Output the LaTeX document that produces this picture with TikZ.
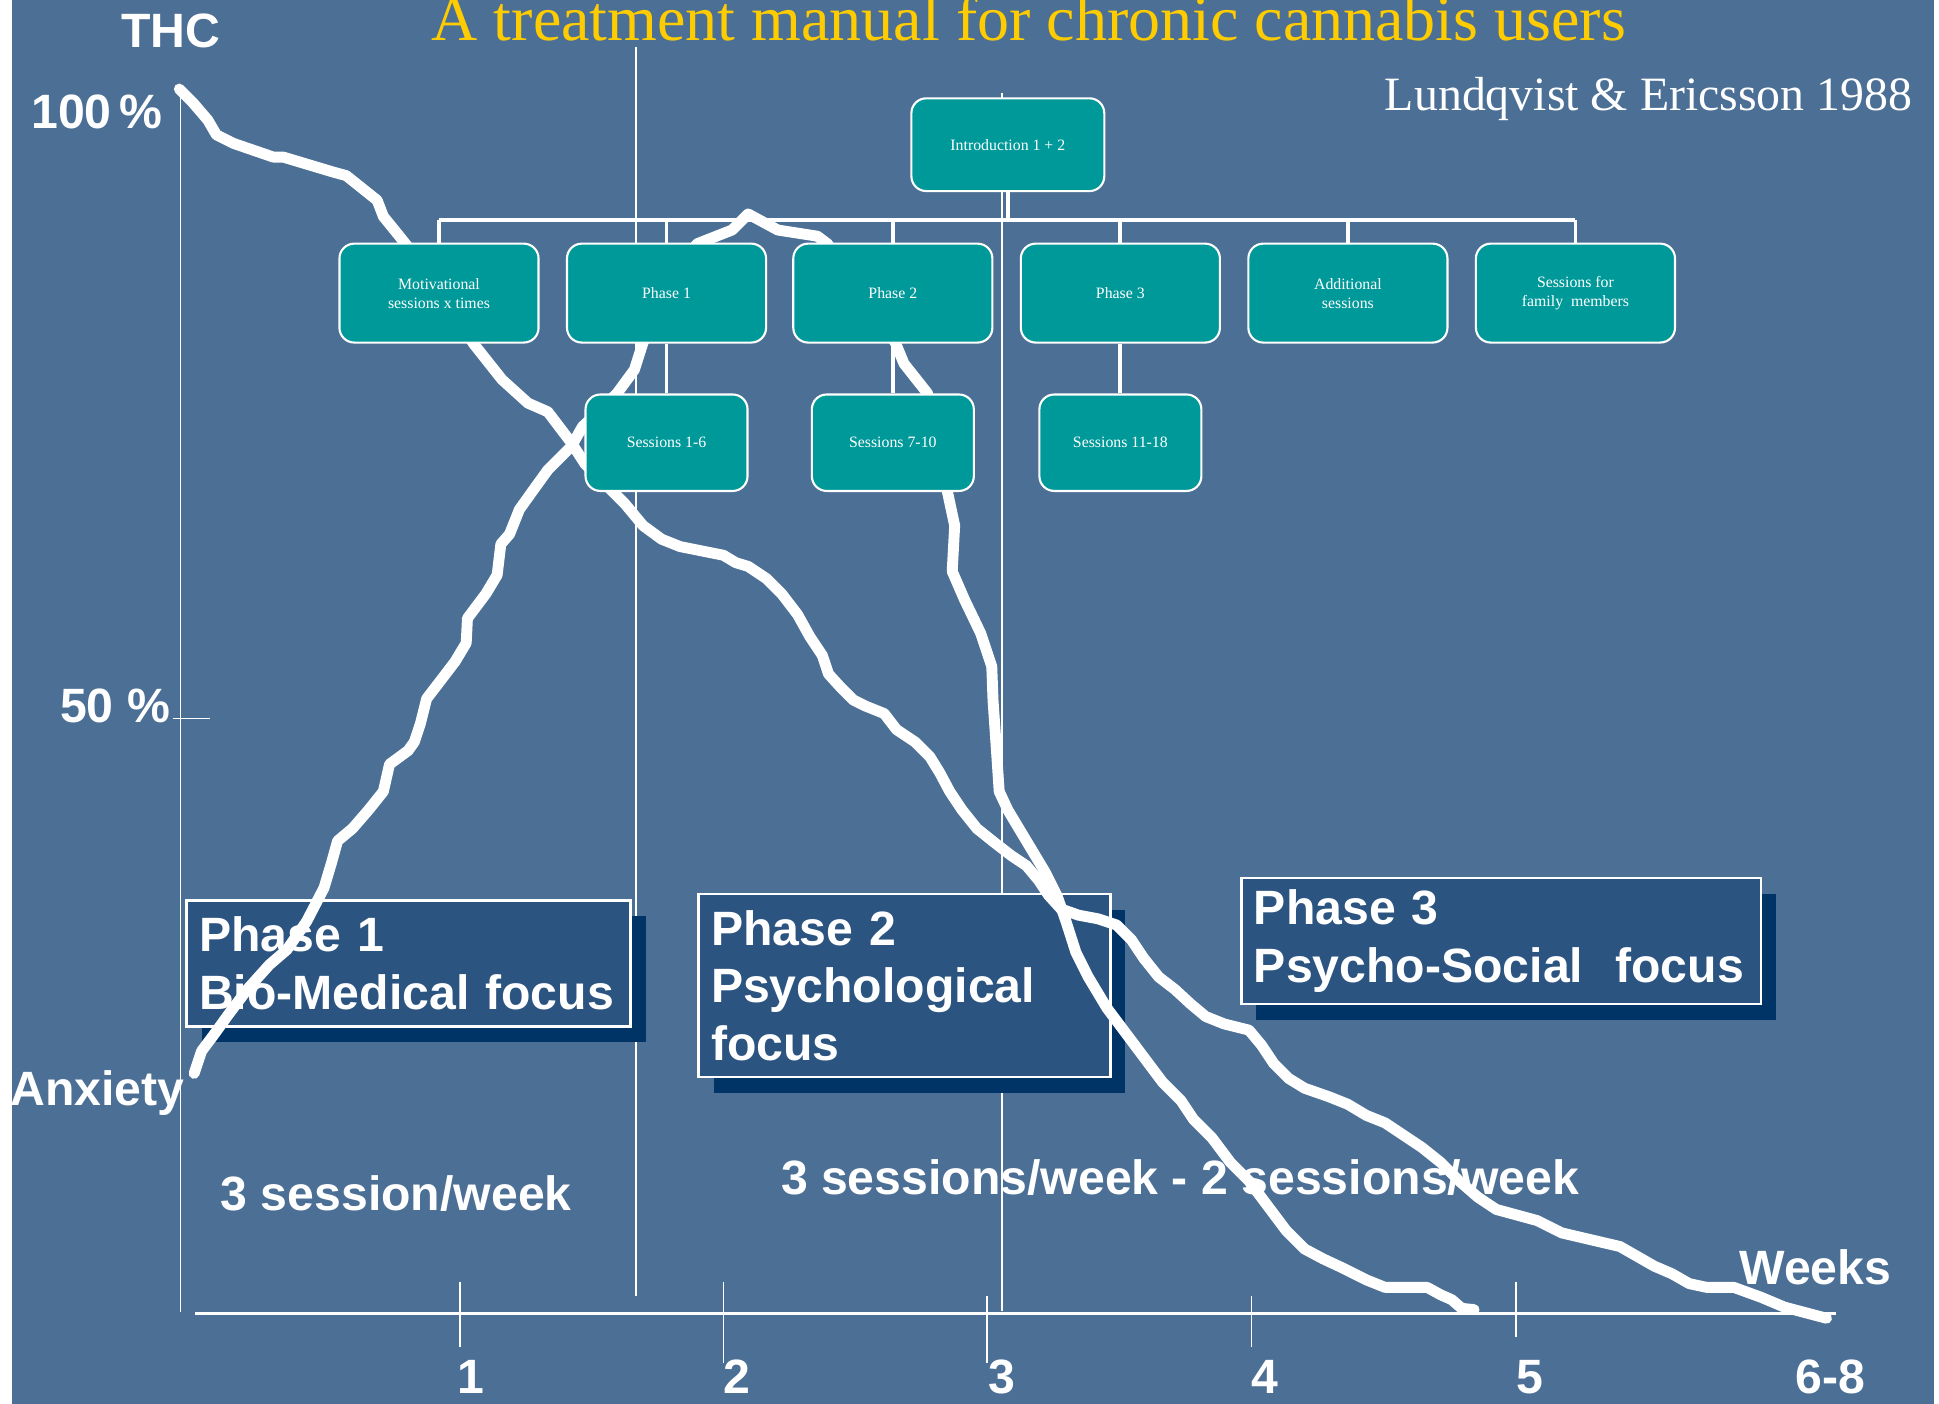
\documentclass[tikz,border=0pt]{standalone}
\usepackage{fontspec}
\setmainfont{Liberation Serif}
\setsansfont{Liberation Sans}
\usetikzlibrary{shadows}

\definecolor{slatebg}{RGB}{76,111,150}
\definecolor{orgteal}{RGB}{0,153,153}
\definecolor{phasefill}{RGB}{44,84,128}
\definecolor{phaseshade}{RGB}{0,51,102}
\definecolor{titlegold}{RGB}{255,204,0}
\newcommand\pu{0.012366cm}

\tikzset{
    orgbox/.style = {draw=white, line width=0.6pt, fill=orgteal, rounded corners=12*\pu,
        text=white, align=center, font=\fontsize{4.5}{5.4}\selectfont},
    orgline/.style = {white, line width=1.1pt},
    phasebox/.style = {draw=white, line width=0.7pt, fill=phasefill, anchor=north west,
        inner xsep=10*\pu, align=left, text=white,
        font=\sffamily\bfseries\fontsize{13.7}{16.4}\selectfont,
        drop shadow={shadow xshift=12*\pu, shadow yshift=-13*\pu, fill=phaseshade, opacity=1}},
    biglabel/.style = {text=white, inner sep=0pt, font=\sffamily\bfseries\fontsize{13.7}{16.4}\selectfont},
    curve/.style = {white, line width=3.1pt, line join=round, line cap=round},
    thin/.style = {white, line width=0.5pt}
}

\begin{document}
\begin{tikzpicture}[x=0.012366cm, y=-0.012366cm]
    \useasboundingbox (0,0) rectangle (1568,1135);
    \fill[slatebg] (10,0) rectangle (1564,1135);

    % axes and week guides
    \draw[thin] (146,75) -- (146,1061);
    \draw[thin] (140,581) -- (170,581);
    \draw[white, line width=1pt] (158,1062) -- (1485,1062);
    \draw[thin] (372,1037) -- (372,1089);
    \draw[thin] (585,1037) -- (585,1102);
    \draw[thin] (798,1048) -- (798,1102);
    \draw[thin] (1012,1048) -- (1012,1089);
    \draw[thin] (1226,1037) -- (1226,1081);
    \draw[thin] (514,38) -- (514,1048);
    \draw[thin] (810,75) -- (810,1060);

    \node[font=\fontsize{18.2}{20}\selectfont, text=titlegold, anchor=base, inner sep=0pt] (title) at (832,33)
        {A treatment manual for chronic cannabis users};
    \node[font=\fontsize{13.6}{16}\selectfont, text=white, anchor=base east, inner sep=0pt] (ref) at (1547,89)
        {Lundqvist \& Ericsson 1988};

    \node[biglabel, anchor=base] (thc) at (138,38) {THC};
    \node[biglabel, anchor=base east] (full) at (132,104) {100\,\%};
    \node[biglabel, anchor=base east] (half) at (138,584) {50 \%};
    \node[biglabel, anchor=base west] (anx) at (8,894) {Anxiety};
    \node[biglabel, anchor=base] (weeks) at (1468,1039) {Weeks};
    \node[biglabel, anchor=base] (w1) at (381,1127) {1};
    \node[biglabel, anchor=base] (w2) at (596,1127) {2};
    \node[biglabel, anchor=base] (w3) at (810,1127) {3};
    \node[biglabel, anchor=base] (w4) at (1023,1127) {4};
    \node[biglabel, anchor=base] (w5) at (1237,1127) {5};
    \node[biglabel, anchor=base] (w68) at (1480,1127) {6-8};

    % phase boxes
    \node[phasebox, minimum width=359*\pu, minimum height=102*\pu, text width=339*\pu] (ph1) at (150,727)
        {Phase 1\\Bio-Medical focus};
    \node[phasebox, minimum width=333*\pu, minimum height=148*\pu, text width=313*\pu] (ph2) at (564,722)
        {Phase 2\\Psychological\\focus};
    \node[phasebox, minimum width=420*\pu, minimum height=102*\pu, text width=400*\pu] (ph3) at (1003,709)
        {Phase 3\\Psycho-Social\ \ focus};

    \node[biglabel, anchor=base west] (rate1) at (178,979) {3 session/week};
    \node[biglabel, anchor=base west] (rate2) at (631,966) {3 sessions/week - 2 sessions/week};

    % THC curve
    \draw[curve] (145,72) -- (156,83) -- (168,97) -- (175,109) -- (189,116) -- (221,127) -- (229,127)
        -- (269,139) -- (280,142) -- (305,162) -- (310,175) -- (323,191) -- (350,225) -- (383,278)
        -- (406,307) -- (427,326) -- (443,333) -- (462,358) -- (473,375) -- (490,392) -- (505,407)
        -- (520,425) -- (535,436) -- (550,442) -- (570,446) -- (585,449) -- (595,455) -- (605,458)
        -- (620,468) -- (632,480) -- (645,497) -- (655,515) -- (665,530) -- (670,545) -- (680,556)
        -- (690,566) -- (700,571) -- (715,577) -- (725,590) -- (740,600) -- (752,612) -- (760,625)
        -- (768,640) -- (778,655) -- (790,670) -- (805,682) -- (818,692) -- (830,700) -- (840,712)
        -- (848,724) -- (858,735) -- (872,740) -- (888,743) -- (903,748) -- (915,760) -- (925,775)
        -- (937,790) -- (950,800) -- (963,812) -- (975,822) -- (990,828) -- (1010,833) -- (1020,845)
        -- (1030,860) -- (1042,872) -- (1055,880) -- (1075,887) -- (1090,893) -- (1105,902) -- (1120,908)
        -- (1135,918) -- (1150,928) -- (1165,940) -- (1180,955) -- (1195,968) -- (1210,978) -- (1243,987)
        -- (1263,997) -- (1310,1008) -- (1338,1024) -- (1352,1030) -- (1366,1038) -- (1380,1041)
        -- (1402,1041) -- (1424,1049) -- (1443,1057) -- (1477,1066);

    % anxiety curve
    \draw[curve] (157,868) -- (163,850) -- (172,838) -- (185,820) -- (200,800) -- (218,780) -- (232,768)
        -- (248,745) -- (262,718) -- (268,698) -- (273,680) -- (285,670) -- (298,655) -- (310,640)
        -- (315,618) -- (330,607) -- (335,600) -- (340,585) -- (345,565) -- (355,552) -- (368,535)
        -- (377,520) -- (378,500) -- (393,480) -- (402,465) -- (405,440) -- (412,432) -- (420,412)
        -- (430,398) -- (443,380) -- (462,361) -- (471,345) -- (485,332) -- (499,318) -- (513,299)
        -- (520,277) -- (540,240) -- (548,215) -- (564,197) -- (592,186) -- (605,173) -- (629,186)
        -- (661,191) -- (669,197) -- (700,240) -- (724,277) -- (731,294) -- (750,318) -- (760,360)
        -- (766,397) -- (772,425) -- (770,462) -- (780,485) -- (793,512) -- (802,539) -- (803,566)
        -- (806,610) -- (808,640) -- (815,655) -- (830,680) -- (845,705) -- (855,725) -- (862,745)
        -- (870,770) -- (880,790) -- (895,815) -- (910,835) -- (925,855) -- (940,875) -- (955,890)
        -- (965,905) -- (980,920) -- (995,940) -- (1010,955) -- (1025,975) -- (1040,995) -- (1055,1010)
        -- (1070,1018) -- (1085,1025) -- (1105,1035) -- (1120,1041) -- (1132,1041) -- (1154,1041)
        -- (1165,1047) -- (1174,1051) -- (1182,1058) -- (1192,1059);

    % treatment plan
    {
        \tikzset{every node/.style = {orgbox, minimum width=161*\pu, minimum height=80*\pu}}

        \node[minimum width=156*\pu, minimum height=75*\pu] (intro) at (815,117) {Introduction 1 + 2};
        \node (mot) at (355,237) {Motivational\\sessions x times};
        \node (p1) at (539,237) {Phase 1};
        \node (p2) at (722,237) {Phase 2};
        \node (p3) at (906,237) {Phase 3};
        \node (add) at (1090,237) {Additional\\sessions};
        \node (fam) at (1274,237) {Sessions for\\family\ \ members};
        \node[minimum width=131*\pu, minimum height=78*\pu] (s1) at (539,358) {Sessions 1-6};
        \node[minimum width=131*\pu, minimum height=78*\pu] (s2) at (722,358) {Sessions 7-10};
        \node[minimum width=131*\pu, minimum height=78*\pu] (s3) at (906,358) {Sessions 11-18};
    }
        \coordinate (bar) at (0,178);
        \draw[orgline] (intro.south) -- (intro.south |- bar);
        \draw[orgline] (mot.north |- bar) -- (fam.north |- bar);
        \foreach \k in {mot, p1, p2, p3, add, fam}
            \draw[orgline] (\k.north) -- (\k.north |- bar);
        \draw[orgline] (p1) -- (s1);
        \draw[orgline] (p2) -- (s2);
        \draw[orgline] (p3) -- (s3);
\end{tikzpicture}
\end{document}
